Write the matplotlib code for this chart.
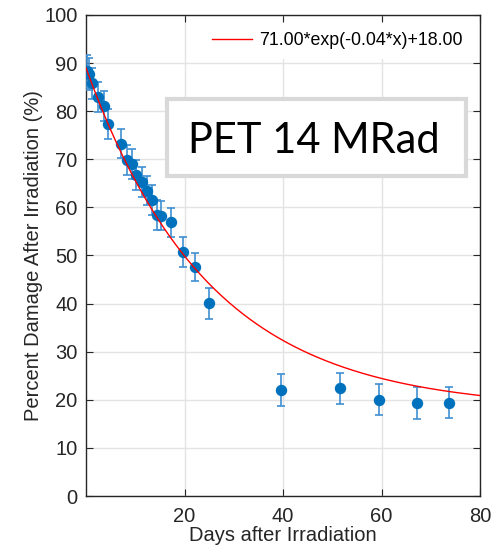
import numpy as np
import matplotlib.pyplot as plt
from matplotlib.patches import Rectangle

plt.rcParams['font.family'] = ['Liberation Sans', 'DejaVu Sans']

days = [0.2, 0.6, 1.2, 2.4, 3.6, 4.4, 7.1, 8.4, 9.4, 10.2, 11.3, 12.4, 13.4,
        14.4, 15.3, 17.3, 19.6, 22.1, 25.0, 39.6, 51.5, 59.5, 67.3, 73.7]
damage = [88.3, 87.8, 85.8, 82.9, 81.1, 77.3, 73.2, 69.8, 69.1, 66.7, 65.3,
          63.5, 61.5, 58.5, 58.3, 56.9, 50.8, 47.6, 40.1, 22.0, 22.4, 20.0,
          19.4, 19.4]
err = [3.4, 3.3, 3.2, 3.1, 3.1, 3.1, 3.0, 3.1, 3.1, 3.1, 3.1, 3.1, 3.1,
       3.1, 3.1, 3.0, 3.1, 3.0, 3.2, 3.3, 3.2, 3.2, 3.3, 3.2]

# exponential fit coefficients
fit_a, fit_b, fit_c = 71.00, -0.04, 18.00
fit_label = '71.00*exp(-0.04*x)+18.00'

fig = plt.figure(figsize=(4.91, 5.45), dpi=100)
ax = fig.add_axes([86 / 491, 1 - 496 / 545, 394 / 491, 481 / 545])

# data with error bars
ax.errorbar(days, damage, yerr=err, fmt='o', color='#0072BD', ecolor='#3f8fd2',
            markersize=7.2, elinewidth=1.2, capsize=2.6, capthick=1.2, zorder=3)

# fitted curve
xf = np.linspace(0, 80, 400)
ax.plot(xf, fit_a * np.exp(fit_b * xf) + fit_c, color='red', linewidth=1.0,
        label=fit_label, zorder=4)

ax.set_xlim(0, 80)
ax.set_ylim(0, 100)
ax.set_xticks([20, 40, 60, 80])
ax.set_yticks(np.arange(0, 101, 10))
ax.grid(True, color='#e3e3e3', linewidth=1.0)
ax.set_axisbelow(True)
ax.tick_params(direction='in', top=True, right=True, labelsize=14.5,
               colors='#262626', length=5, width=0.8)
ax.tick_params(axis='x', pad=8)
ax.tick_params(axis='y', pad=6)
for s in ax.spines.values():
    s.set_color('#262626')
    s.set_linewidth(1.0)

ax.set_xlabel('Days after Irradiation', fontsize=14.5, color='#262626', labelpad=0)
ax.set_ylabel('Percent Damage After Irradiation (%)', fontsize=14.5,
              color='#262626', labelpad=1)

leg = ax.legend(loc='upper right', fontsize=12.8, frameon=True, handlelength=2.3,
                borderaxespad=0.45, handletextpad=0.4, borderpad=0.5)
leg.get_frame().set_edgecolor('white')
leg.get_frame().set_facecolor('white')
leg.get_frame().set_alpha(1)

# overlaid title box
fig.patches.append(Rectangle((167 / 491, 1 - 176 / 545), 299 / 491, 77 / 545,
                             transform=fig.transFigure, facecolor='white',
                             edgecolor='#d9d9d9', linewidth=3, zorder=5))
fig.text(188 / 491, 1 - 153 / 545, 'PET 14 MRad', fontsize=30, family='Lato',
         ha='left', va='baseline', color='black', zorder=6)

fig.savefig('out.png', dpi=100)
